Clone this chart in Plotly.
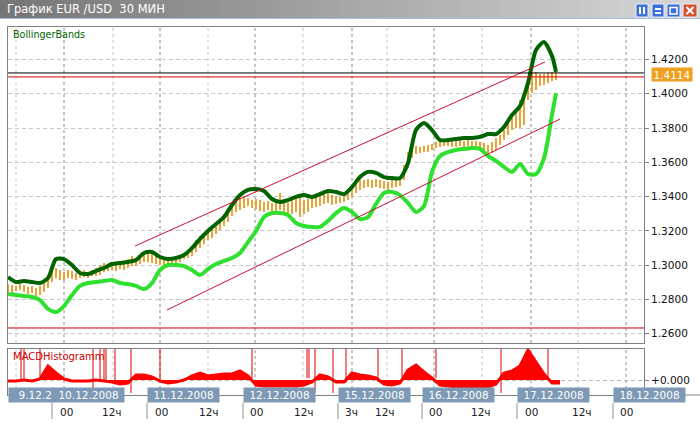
import plotly.graph_objects as go

W, H = 700, 424
def px(x): return x / W
def py(y): return 1 - y / H

# ---------------- data (x = index of 30-minute bar) ----------------
band_bars = list(range(0, 273, 4)) + [274]
upper_band = [1.2931, 1.2902, 1.2908, 1.2902, 1.2896, 1.2925, 1.3036, 1.3036, 1.3001, 1.2955,
              1.2949, 1.2966, 1.2984, 1.3007, 1.3013, 1.3019, 1.3030, 1.3071, 1.3077, 1.3048,
              1.3036, 1.3042, 1.3060, 1.3100, 1.3153, 1.3199, 1.3240, 1.3281, 1.3351, 1.3409,
              1.3439, 1.3444, 1.3433, 1.3386, 1.3369, 1.3380, 1.3398, 1.3409, 1.3398, 1.3415,
              1.3433, 1.3427, 1.3415, 1.3456, 1.3514, 1.3544, 1.3538, 1.3514, 1.3508, 1.3508,
              1.3596, 1.3788, 1.3829, 1.3788, 1.3730, 1.3730, 1.3736, 1.3742, 1.3742, 1.3748,
              1.3765, 1.3765, 1.3806, 1.3876, 1.3928, 1.4062, 1.4255, 1.4302, 1.4220, 1.4127]
lower_band = [1.2832, 1.2826, 1.2820, 1.2815, 1.2797, 1.2745, 1.2727, 1.2762, 1.2826, 1.2879,
              1.2896, 1.2902, 1.2908, 1.2914, 1.2896, 1.2890, 1.2879, 1.2861, 1.2896, 1.2972,
              1.3001, 1.3001, 1.2995, 1.2972, 1.2943, 1.2978, 1.3007, 1.3025, 1.3042, 1.3071,
              1.3135, 1.3199, 1.3281, 1.3304, 1.3304, 1.3293, 1.3246, 1.3229, 1.3223, 1.3223,
              1.3258, 1.3304, 1.3334, 1.3310, 1.3269, 1.3281, 1.3357, 1.3421, 1.3427, 1.3409,
              1.3363, 1.3310, 1.3345, 1.3544, 1.3637, 1.3660, 1.3672, 1.3678, 1.3683, 1.3678,
              1.3637, 1.3608, 1.3573, 1.3544, 1.3590, 1.3532, 1.3532, 1.3625, 1.3876, 1.4004]

price_bars = list(range(0, 275, 2))
price_high = [1.2890, 1.2885, 1.2879, 1.2890, 1.2885, 1.2873, 1.2879, 1.2867, 1.2879, 1.2902,
              1.2943, 1.3001, 1.2984, 1.2972, 1.2960, 1.2972, 1.2966, 1.2955, 1.2966, 1.2972,
              1.2960, 1.2972, 1.2984, 1.3001, 1.3013, 1.3007, 1.3019, 1.3013, 1.3025, 1.3019,
              1.3036, 1.3054, 1.3042, 1.3060, 1.3071, 1.3077, 1.3071, 1.3054, 1.3042, 1.3036,
              1.3030, 1.3042, 1.3042, 1.3060, 1.3071, 1.3077, 1.3106, 1.3147, 1.3170, 1.3182,
              1.3205, 1.3217, 1.3252, 1.3275, 1.3299, 1.3322, 1.3357, 1.3380, 1.3392, 1.3404,
              1.3392, 1.3380, 1.3386, 1.3380, 1.3369, 1.3374, 1.3363, 1.3380, 1.3421, 1.3380,
              1.3363, 1.3380, 1.3404, 1.3409, 1.3380, 1.3386, 1.3409, 1.3404, 1.3415, 1.3427,
              1.3421, 1.3409, 1.3404, 1.3398, 1.3404, 1.3415, 1.3450, 1.3474, 1.3497, 1.3497,
              1.3503, 1.3497, 1.3503, 1.3497, 1.3491, 1.3485, 1.3497, 1.3503, 1.3508, 1.3584,
              1.3660, 1.3689, 1.3695, 1.3689, 1.3695, 1.3701, 1.3707, 1.3718, 1.3724, 1.3724,
              1.3730, 1.3730, 1.3724, 1.3730, 1.3724, 1.3730, 1.3724, 1.3724, 1.3718, 1.3713,
              1.3701, 1.3718, 1.3742, 1.3759, 1.3788, 1.3835, 1.3858, 1.3893, 1.3963, 1.3981,
              1.4080, 1.4127, 1.4127, 1.4115, 1.4115, 1.4121, 1.4127, 1.4127]
price_low = [1.2844, 1.2838, 1.2850, 1.2855, 1.2844, 1.2832, 1.2838, 1.2820, 1.2826, 1.2844,
             1.2867, 1.2902, 1.2925, 1.2914, 1.2914, 1.2925, 1.2920, 1.2914, 1.2925, 1.2931,
             1.2925, 1.2937, 1.2937, 1.2943, 1.2960, 1.2966, 1.2972, 1.2966, 1.2978, 1.2972,
             1.2984, 1.2995, 1.2995, 1.3007, 1.3019, 1.3019, 1.3013, 1.3007, 1.3001, 1.2995,
             1.2990, 1.3001, 1.3007, 1.3019, 1.3036, 1.3042, 1.3054, 1.3077, 1.3100, 1.3124,
             1.3147, 1.3159, 1.3182, 1.3205, 1.3229, 1.3252, 1.3287, 1.3310, 1.3322, 1.3334,
             1.3345, 1.3334, 1.3328, 1.3316, 1.3310, 1.3322, 1.3299, 1.3310, 1.3322, 1.3299,
             1.3287, 1.3299, 1.3310, 1.3281, 1.3299, 1.3310, 1.3334, 1.3339, 1.3345, 1.3357,
             1.3363, 1.3351, 1.3357, 1.3363, 1.3369, 1.3380, 1.3398, 1.3421, 1.3439, 1.3450,
             1.3456, 1.3450, 1.3456, 1.3450, 1.3444, 1.3439, 1.3450, 1.3456, 1.3462, 1.3497,
             1.3567, 1.3625, 1.3648, 1.3654, 1.3660, 1.3660, 1.3672, 1.3683, 1.3689, 1.3695,
             1.3695, 1.3689, 1.3689, 1.3695, 1.3689, 1.3695, 1.3689, 1.3683, 1.3672, 1.3660,
             1.3643, 1.3654, 1.3672, 1.3701, 1.3730, 1.3759, 1.3788, 1.3800, 1.3800, 1.3818,
             1.3963, 1.4004, 1.4022, 1.4045, 1.4051, 1.4062, 1.4074, 1.4080]

macd_bars = list(range(0, 277, 4))
macd_hist = [-0.0002, -0.0002, 0.0000, -0.0002, 0.0002, 0.0028, 0.0014, 0.0002, -0.0002, -0.0002,
             -0.0002, 0.0000, -0.0002, -0.0004, -0.0008, -0.0006, 0.0010, 0.0010, 0.0006, -0.0002,
             -0.0006, -0.0004, 0.0000, 0.0008, 0.0014, 0.0008, 0.0010, 0.0012, 0.0012, 0.0018,
             0.0008, -0.0010, -0.0012, -0.0012, -0.0012, -0.0012, -0.0012, -0.0010, -0.0004, 0.0010,
             0.0006, -0.0004, -0.0004, 0.0014, 0.0010, 0.0008, 0.0004, -0.0008, -0.0010, -0.0006,
             0.0020, 0.0030, 0.0016, 0.0004, -0.0010, -0.0012, -0.0014, -0.0014, -0.0014, -0.0014,
             -0.0014, -0.0008, 0.0014, 0.0018, 0.0028, 0.0060, 0.0036, 0.0012, -0.0006, -0.0006]

cross_bars = [6.5, 8, 16, 42.5, 46, 48, 49, 53.5, 61.5, 76, 122, 149.5, 150.5, 153.5,
              162.5, 169, 185, 197, 214, 246.5, 270]
cross_bottom = [0.0000, 0.0000, 0.0004, -0.0026, -0.0004, -0.0004, -0.0004, -0.0008, -0.0026,
                -0.0004, 0.0004, 0.0004, 0.0004, -0.0026, -0.0026, -0.0006, -0.0004, 0.0006,
                0.0004, -0.0026, 0.0004]

channel_up_x = [63.5, 268.5]
channel_up_y = [1.3112, 1.4185]
channel_dn_x = [79.5, 276]
channel_dn_y = [1.2739, 1.3852]

ask_level = 1.4121
bid_level = 1.4098
support_level = 1.2634
last_price_text = "1.4114"

price_ticks = [1.26, 1.28, 1.30, 1.32, 1.34, 1.36, 1.38, 1.40, 1.42]

# first date box is partly hidden behind the next one in the reference
date_labels = ["9.12.2", "10.12.2008", "11.12.2008", "12.12.2008",
               "15.12.2008", "16.12.2008", "17.12.2008", "18.12.2008"]
date_label_bars = [0, 22, 69.5, 117.5, 165, 207, 254.5, 302.5]

time_labels = ["12ч", "00", "12ч", "00", "12ч", "00", "12ч", "3ч", "12ч", "00", "12ч", "00", "12ч", "00"]
time_label_bars = [-3, 25, 46, 72.5, 94.5, 120, 142, 167.5, 182.5, 209.5, 230.5, 257.5, 281, 305]

grid_light_bars = [4, 52.5, 100, 147.5, 189.5, 237, 285]
grid_dark_bars = [28, 76, 123.5, 172, 213, 261.5, 309]

# ---------------- layout geometry ----------------
X0, X1 = 8, 644
MAIN_TOP, MAIN_BOT = 27, 343
MACD_TOP, MACD_BOT = 349, 395
XR = [0, 318]
YR = [1.25464, 1.43890]
Y2R = [-0.0030, 0.0062]

FONT = "DejaVu Sans"
ORANGE = "#e8a436"
DKGREEN = "#006400"
LTGREEN = "#2fe02f"
CRIMSON = "#c8103a"

fig = go.Figure()

# price bars (high-low)
fig.add_trace(go.Bar(x=price_bars, y=[h - l for h, l in zip(price_high, price_low)], base=price_low,
                     width=1.0, marker=dict(color=ORANGE, line=dict(width=0)),
                     xaxis="x", yaxis="y", hoverinfo="skip"))
# Bollinger bands
fig.add_trace(go.Scatter(x=band_bars, y=upper_band, mode="lines",
                         line=dict(color=DKGREEN, width=4, shape="spline", smoothing=0.7),
                         xaxis="x", yaxis="y", hoverinfo="skip"))
fig.add_trace(go.Scatter(x=band_bars, y=lower_band, mode="lines",
                         line=dict(color=LTGREEN, width=4, shape="spline", smoothing=0.7),
                         xaxis="x", yaxis="y", hoverinfo="skip"))
# channel lines
for cx, cy in [(channel_up_x, channel_up_y), (channel_dn_x, channel_dn_y)]:
    fig.add_trace(go.Scatter(x=cx, y=cy, mode="lines", line=dict(color=CRIMSON, width=1),
                             xaxis="x", yaxis="y", hoverinfo="skip"))

# MACD histogram
fig.add_trace(go.Scatter(x=macd_bars, y=macd_hist, mode="lines", fill="tozeroy",
                         fillcolor="#ff0000", line=dict(color="#ff0000", width=3),
                         xaxis="x2", yaxis="y2", hoverinfo="skip"))
vx, vy = [], []
for b, bot in zip(cross_bars, cross_bottom):
    vx += [b, b, None]
    vy += [Y2R[1], bot, None]
fig.add_trace(go.Scatter(x=vx, y=vy, mode="lines", line=dict(color="#e00000", width=1),
                         xaxis="x2", yaxis="y2", hoverinfo="skip"))

shapes = []
# vertical grid lines
for bars, col in [(grid_light_bars, "#c4c4c4"), (grid_dark_bars, "#8c8c8c")]:
    for b in bars:
        for xr, top, bot in [("x", MAIN_TOP, MAIN_BOT), ("x2", MACD_TOP, MACD_BOT)]:
            shapes.append(dict(type="line", xref=xr, yref="paper", x0=b, x1=b,
                               y0=py(bot), y1=py(top), layer="below",
                               line=dict(color=col, width=1, dash="3px,3px")))
# horizontal levels
for lvl, col in [(ask_level, "#000000"), (bid_level, "#dd0000"), (support_level, "#cc0000")]:
    shapes.append(dict(type="line", xref="x domain", yref="y", x0=0, x1=1, y0=lvl, y1=lvl,
                       line=dict(color=col, width=1)))

# title bar gradient
n = 70
for i in range(n):
    t = i / (n - 1)
    c = int(118 + t * 98)
    shapes.append(dict(type="rect", xref="paper", yref="paper",
                       x0=px(i * 10), x1=px(i * 10 + 10.5), y0=py(18), y1=py(0),
                       fillcolor=f"rgb({c},{c},{c})", line=dict(width=0), layer="above"))
shapes.append(dict(type="line", xref="paper", yref="paper", x0=0, x1=1, y0=py(18.5), y1=py(18.5),
                   line=dict(color="#a8bedc", width=1)))
# window buttons
btns = [(636, 648, "#3d6fd8"), (652, 664, "#3d6fd8"), (667, 680, "#3d6fd8"), (683, 697, "#d8512e")]
for x0b, x1b, colb in btns:
    shapes.append(dict(type="rect", xref="paper", yref="paper", x0=px(x0b), x1=px(x1b),
                       y0=py(17), y1=py(4), fillcolor=colb, line=dict(color="#e8eefa", width=1)))
# icons
shapes += [
    dict(type="rect", xref="paper", yref="paper", x0=px(639), x1=px(641), y0=py(14), y1=py(7),
         fillcolor="white", line=dict(width=0)),
    dict(type="rect", xref="paper", yref="paper", x0=px(643), x1=px(645), y0=py(14), y1=py(7),
         fillcolor="white", line=dict(width=0)),
    dict(type="rect", xref="paper", yref="paper", x0=px(655), x1=px(661), y0=py(10), y1=py(8),
         fillcolor="white", line=dict(width=0)),
    dict(type="rect", xref="paper", yref="paper", x0=px(655), x1=px(661), y0=py(14), y1=py(12),
         fillcolor="white", line=dict(width=0)),
    dict(type="rect", xref="paper", yref="paper", x0=px(670), x1=px(677), y0=py(14), y1=py(7.5),
         fillcolor="rgba(0,0,0,0)", line=dict(color="white", width=1.5)),
    dict(type="line", xref="paper", yref="paper", x0=px(686.5), x1=px(693.5), y0=py(14), y1=py(7),
         line=dict(color="white", width=2)),
    dict(type="line", xref="paper", yref="paper", x0=px(686.5), x1=px(693.5), y0=py(7), y1=py(14),
         line=dict(color="white", width=2)),
]
# time axis line continuation and day ticks
shapes.append(dict(type="line", xref="paper", yref="paper", x0=px(X1), x1=px(700),
                   y0=py(MACD_BOT), y1=py(MACD_BOT), line=dict(color="#808080", width=1)))
for b in date_label_bars[1:]:
    shapes.append(dict(type="line", xref="x", yref="paper", x0=b, x1=b, y0=py(419), y1=py(403),
                       line=dict(color="#909090", width=1)))

annotations = []
annotations.append(dict(text="График EUR /USD \u00a030 МИН", xref="paper", yref="paper",
                        x=px(5), y=py(9.5), xanchor="left", yanchor="middle", showarrow=False,
                        font=dict(family=FONT, size=11.5, color="white")))
annotations.append(dict(text="BollingerBands", xref="paper", yref="paper", x=px(10.5), y=py(34.5),
                        xanchor="left", yanchor="middle", showarrow=False,
                        font=dict(family=FONT, size=9.6, color=DKGREEN)))
annotations.append(dict(text="MACDHistogramm", xref="paper", yref="paper", x=px(10.5), y=py(356),
                        xanchor="left", yanchor="middle", showarrow=False,
                        font=dict(family=FONT, size=10, color="#cc0000")))
annotations.append(dict(text=last_price_text, xref="paper", yref="y", x=px(651), y=1.4114,
                        xanchor="left", yanchor="middle", showarrow=False, bgcolor="#f0a020",
                        borderpad=1, width=38, height=11,
                        font=dict(family=FONT, size=10.5, color="white")))
for i, (txt, b) in enumerate(zip(date_labels, date_label_bars)):
    annotations.append(dict(text=txt, xref="x", yref="paper", x=b, y=py(395), xanchor="left",
                            yanchor="middle", showarrow=False, bgcolor="#7d99b6",
                            width=42 if i == 0 else 69, height=12, borderpad=1,
                            align="right" if i == 0 else "center",
                            font=dict(family=FONT, size=10.5, color="white")))
for txt, b in zip(time_labels, time_label_bars):
    annotations.append(dict(text=txt, xref="x", yref="paper", x=b, y=py(412), xanchor="left",
                            yanchor="middle", showarrow=False,
                            font=dict(family=FONT, size=10.5, color="#202020")))

axis_common = dict(showline=True, mirror=True, linecolor="#808080", linewidth=1,
                   zeroline=False, fixedrange=True)
fig.update_layout(
    width=W, height=H, margin=dict(l=0, r=0, t=0, b=0),
    paper_bgcolor="white", plot_bgcolor="white", showlegend=False,
    bargap=0,
    xaxis=dict(domain=[px(X0), px(X1)], range=XR, showticklabels=False, showgrid=False,
               ticks="", anchor="y", **axis_common),
    yaxis=dict(domain=[py(MAIN_BOT), py(MAIN_TOP)], range=YR, side="right", anchor="x",
               tickvals=price_ticks, tickformat=".4f", ticks="outside", ticklen=4,
               tickcolor="#808080", showgrid=True, gridcolor="#c8c8c8", griddash="4px,3px",
               tickfont=dict(family=FONT, size=10.5, color="#101010"), **axis_common),
    xaxis2=dict(domain=[px(X0), px(X1)], range=XR, showticklabels=False, showgrid=False,
                ticks="", anchor="y2", matches="x", **axis_common),
    yaxis2=dict(domain=[py(MACD_BOT), py(MACD_TOP)], range=Y2R, side="right", anchor="x2",
                tickvals=[0], ticktext=["+0.000"], ticks="outside", ticklen=4,
                tickcolor="#808080", showgrid=True, gridcolor="#b8b8b8", griddash="4px,3px",
                tickfont=dict(family=FONT, size=10.5, color="#101010"), **axis_common),
    shapes=shapes, annotations=annotations,
)

fig.write_html("out.html", config={"displayModeBar": False},
               post_script="document.body.style.margin='0px';")
